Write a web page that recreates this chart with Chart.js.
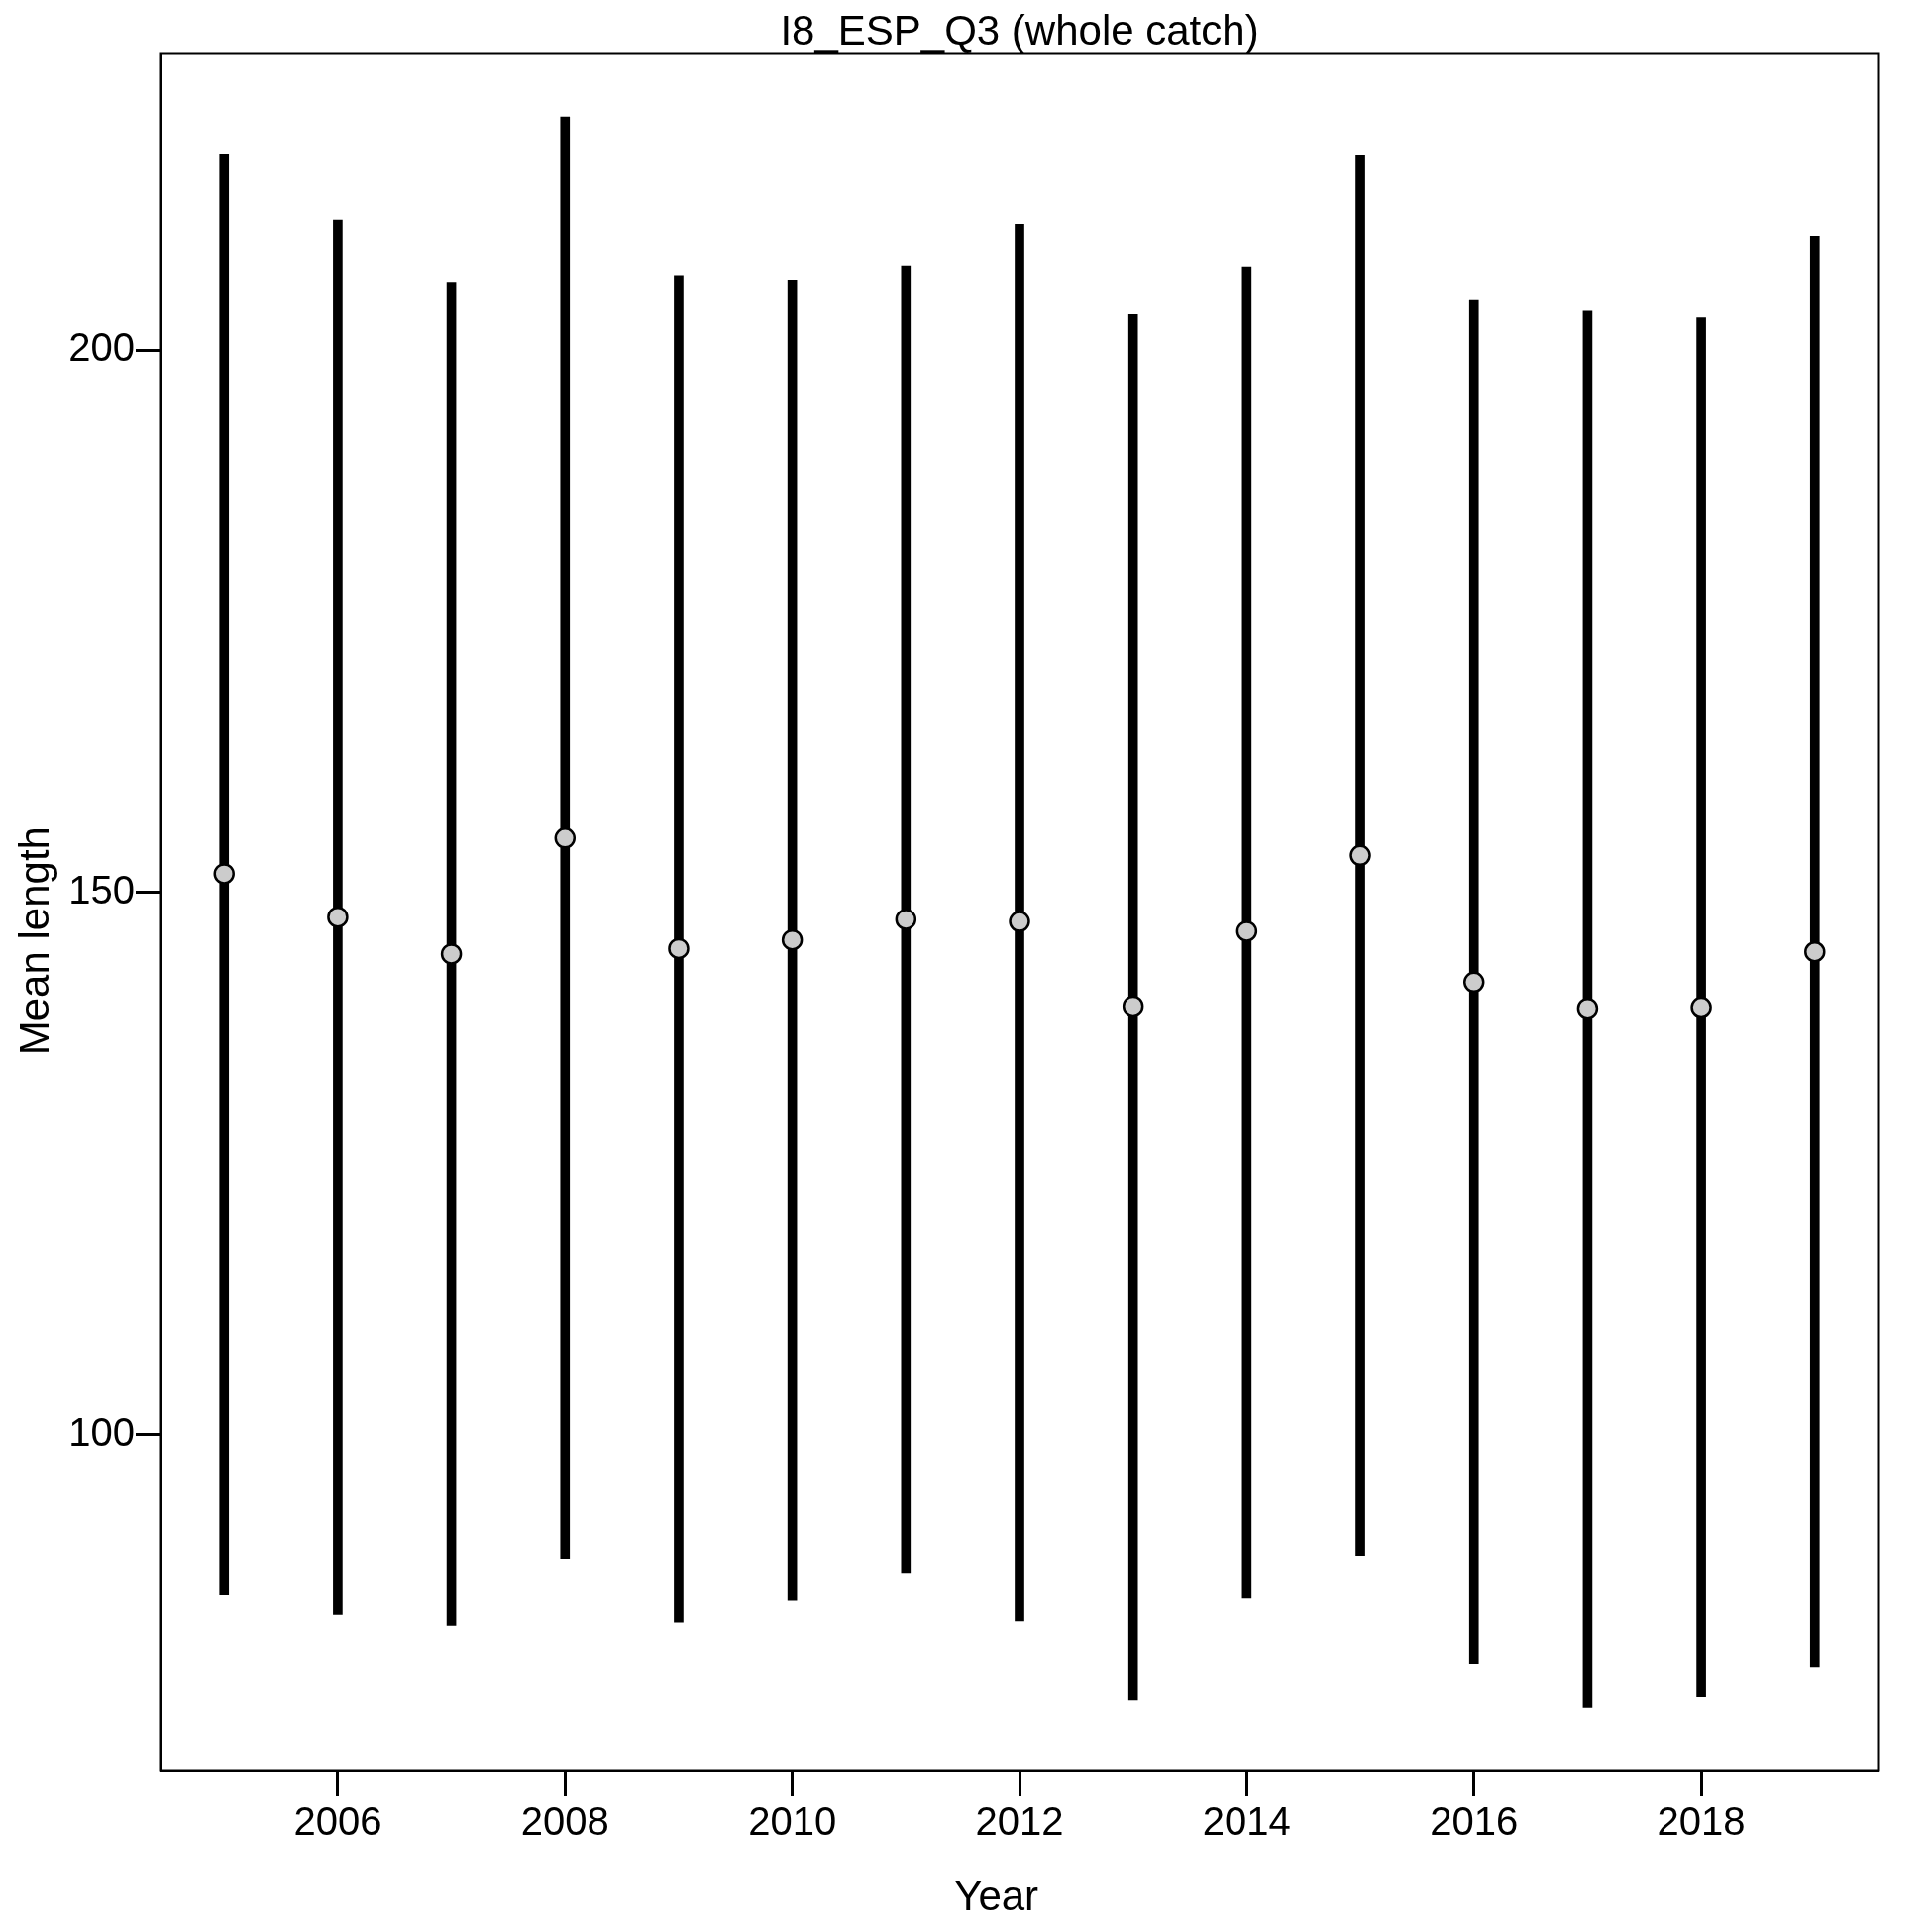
<!DOCTYPE html>
<html>
<head>
<meta charset="utf-8">
<script src="https://cdn.jsdelivr.net/npm/chart.js@4"></script>
<style>
  html, body { margin: 0; padding: 0; background: #ffffff; }
  #chart { display: block; }
</style>
</head>
<body>
<canvas id="chart" width="1950" height="1950"></canvas>
<script>
const years = [2005, 2006, 2007, 2008, 2009, 2010, 2011, 2012, 2013, 2014, 2015, 2016, 2017, 2018, 2019]
const meanLength = [151.7, 147.7, 144.3, 155.0, 144.8, 145.6, 147.5, 147.3, 139.5, 146.4, 153.4, 141.7, 139.3, 139.4, 144.5]
const upper = [218.1, 212.0, 206.2, 221.5, 206.8, 206.4, 207.8, 211.6, 203.3, 207.7, 218.0, 204.6, 203.6, 203.0, 210.5]
const lower = [85.2, 83.4, 82.4, 88.5, 82.7, 84.7, 87.2, 82.8, 75.5, 84.9, 88.8, 78.9, 74.8, 75.8, 78.5]
const xTicks = [2006, 2008, 2010, 2012, 2014, 2016, 2018]
const yTicks = [100, 150, 200]

const fontFamily = "'Liberation Sans', Arial, sans-serif"

// frame round the plot area, like R's box()
const boxPlugin = {
    id: "box",
    afterDraw(chart) {
        const {ctx, chartArea: a} = chart
        ctx.save()
        ctx.strokeStyle = "#000000"
        ctx.lineWidth = 3
        ctx.strokeRect(a.left, a.top, a.right - a.left, a.bottom - a.top)
        ctx.restore()
    }
}

const ctx = document.querySelector("#chart")
let myChart = new Chart(ctx, {
    type: "bar",
    plugins: [boxPlugin],
    data: {
        datasets: [
            {
                type: "scatter",
                order: 0,
                data: years.map((y, i) => ({x: y, y: meanLength[i]})),
                pointRadius: 9.5,
                pointBackgroundColor: "#cccccc",
                pointBorderColor: "#000000",
                pointBorderWidth: 2.5,
                showLine: false,
            },
            {
                type: "bar",
                order: 1,
                data: years.map((y, i) => ({x: y, y: [lower[i], upper[i]]})),
                backgroundColor: "#000000",
                borderWidth: 0,
                barThickness: 9,
            },
        ],
    },
    options: {
        responsive: false,
        devicePixelRatio: 1,
        animation: false,
        layout: {padding: {left: 0, right: 54, top: 0, bottom: 0}},
        plugins: {
            legend: {display: false},
            tooltip: {enabled: false},
            title: {
                display: true,
                fullSize: false,
                text: "I8_ESP_Q3 (whole catch)",
                color: "#000000",
                font: {family: fontFamily, size: 42, weight: "normal", lineHeight: 1.0},
                padding: {top: 12, bottom: 0},
            },
        },
        scales: {
            x: {
                type: "linear",
                min: 2004.44,
                max: 2019.56,
                offset: false,
                afterBuildTicks: (scale) => { scale.ticks = xTicks.map(v => ({value: v})) },
                afterFit: (scale) => { scale.height = 163 },
                grid: {offset: false, drawOnChartArea: false, tickLength: 26, tickWidth: 3, tickColor: "#000000"},
                border: {display: true, color: "#000000", width: 3},
                ticks: {
                    color: "#000000",
                    font: {family: fontFamily, size: 40},
                    padding: 4,
                    maxRotation: 0,
                    callback: (v) => String(v),
                },
                title: {
                    display: true,
                    text: "Year    ",
                    color: "#000000",
                    font: {family: fontFamily, size: 42},
                    padding: {top: 0, bottom: 8},
                },
            },
            y: {
                type: "linear",
                min: 69.0,
                max: 227.35,
                afterBuildTicks: (scale) => { scale.ticks = yTicks.map(v => ({value: v})) },
                afterFit: (scale) => { scale.width = 162 },
                grid: {drawOnChartArea: false, tickLength: 25, tickWidth: 3, tickColor: "#000000"},
                border: {display: true, color: "#000000", width: 3},
                ticks: {
                    color: "#000000",
                    font: {family: fontFamily, size: 40},
                    padding: 1,
                    callback: (v) => String(v),
                },
                title: {
                    display: true,
                    text: "Mean length     ",
                    color: "#000000",
                    font: {family: fontFamily, size: 42},
                    padding: {top: 12, bottom: 0},
                },
            },
        },
    },
})
</script>
</body>
</html>
